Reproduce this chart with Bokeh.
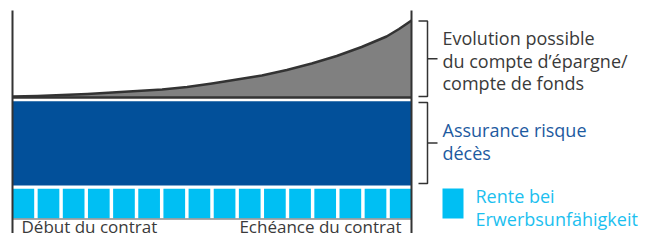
from bokeh.plotting import figure
from bokeh.models import Range1d
from bokeh.embed import file_html
from bokeh.resources import INLINE
from bokeh.core.properties import value

# ---- data ----
years = [0, 1, 2, 3, 4, 5, 6, 7, 8, 9, 10, 11, 12, 13, 14, 15, 15.5, 16]      # contract years
savings = [1, 1.5, 2.5, 3.5, 5, 6.5, 8, 10.5, 14, 18, 22, 27.5, 34, 41.5, 50.5, 61, 68.5, 77]  # savings / fund account
periods = list(range(16))                    # disability pension periods
evolution_lines = ["Evolution possible", "du compte d\u2019\u00e9pargne/", "compte de fonds"]
risk_lines = ["Assurance risque", "d\u00e9c\u00e8s"]
pension_lines = ["Rente bei", "Erwerbsunf\u00e4higkeit"]
start_label = "D\u00e9but du contrat"
end_label = "Ech\u00e9ance du contrat"

# ---- layout helpers (picture pixel -> data) ----
W, H = 643, 238
P = 399 / 16.0
def X(sx):
    return (sx - 12) / P
def Y(sy):
    return 97 - sy

TXT_DY = -7.5   # compensation for where the text baseline lands

FONT = value("Open Sans")
DARK = "#333333"
GRAY_TXT = "#3a3a3a"
BLUE = "#02509a"
BLUE_TXT = "#1d5aa0"
CYAN = "#00bff3"
CYAN_TXT = "#1cc0ef"

p = figure(width=W, height=H, output_backend="svg", toolbar_location=None,
           x_range=Range1d(X(0), X(W)), y_range=Range1d(Y(H), Y(0)),
           min_border=0, outline_line_color=None, background_fill_color="white",
           border_fill_color="white")
p.axis.visible = False
p.grid.visible = False

t0, t1 = years[0], years[-1]

# savings area
p.varea(x=years, y1=[0] * len(years), y2=savings, fill_color="#808080")
p.line(x=years, y=savings, line_color=DARK, line_width=2.5, line_join="round")
p.line(x=[t0, t1], y=[0, 0], line_color=DARK, line_width=2.5)

# risk insurance band
p.quad(left=[t0], right=[t1], top=[Y(100.7)], bottom=[Y(185)],
       fill_color=BLUE, line_color=None)

# disability pension squares
n = len(periods)
w = 0.87
g = (t1 - t0 - n * w) / (n - 1)
lefts = [t0 + i * (w + g) for i in periods]
rights = [l + w for l in lefts]
p.quad(left=lefts, right=rights, top=[Y(188.3)] * n, bottom=[Y(217.7)] * n,
       fill_color=CYAN, line_color=None)
p.line(x=[t0, t1], y=[Y(218.5)] * 2, line_color="#555555", line_width=1.2)

# vertical boundaries
p.segment(x0=[t0, t1], y0=[Y(10)] * 2, x1=[t0, t1], y1=[Y(232.5)] * 2,
          line_color=DARK, line_width=2)

# brackets
def bracket(top, bottom):
    xa, xv, xt = X(418), X(427), X(437)
    mid = (top + bottom) / 2
    p.multi_line(xs=[[xa, xv, xv, xa], [xv, xt]],
                 ys=[[Y(top), Y(top), Y(bottom), Y(bottom)], [Y(mid), Y(mid)]],
                 line_color=DARK, line_width=1.5)
bracket(20.5, 96)
bracket(102, 183)

# legend square
p.quad(left=[X(442)], right=[X(463)], top=[Y(188)], bottom=[Y(218)],
       fill_color=CYAN, line_color=None)

def txt(x, ys, lines, color, align="left", size="18px"):
    p.text(x=[X(x)] * len(lines), y=[Y(v + TXT_DY) for v in ys], text=lines,
           text_font=FONT, text_font_size=size, text_color=color,
           text_align=align, text_baseline="alphabetic")

txt(442, [45, 67.5, 90], evolution_lines, GRAY_TXT)
txt(442, [137, 160], risk_lines, BLUE_TXT)
txt(475, [203, 226], pension_lines, CYAN_TXT)
txt(21, [233], [start_label], GRAY_TXT, size="17px")
txt(401, [233], [end_label], GRAY_TXT, align="right", size="17px")

open("out.html", "w").write(file_html(p, INLINE))
